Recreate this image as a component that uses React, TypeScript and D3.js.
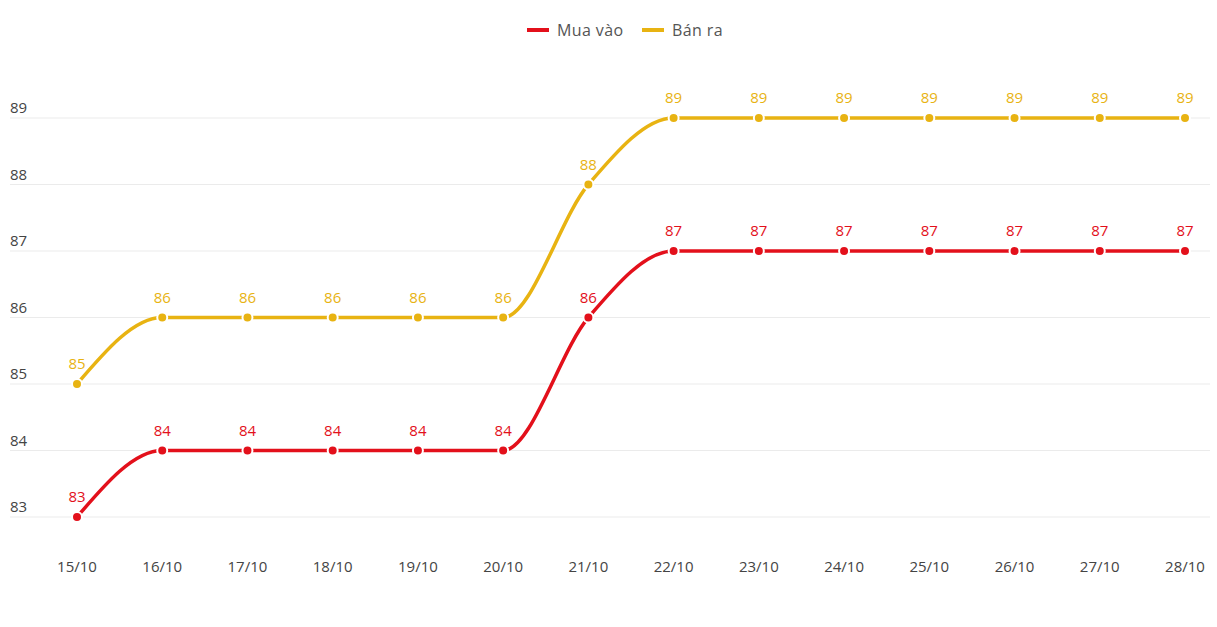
import React from "react";
import * as d3 from "d3";

const dates = ["15/10","16/10","17/10","18/10","19/10","20/10","21/10","22/10","23/10","24/10","25/10","26/10","27/10","28/10"];
const muaVao = [83,84,84,84,84,84,86,87,87,87,87,87,87,87];
const banRa = [85,86,86,86,86,86,88,89,89,89,89,89,89,89];
const yTicks = [83,84,85,86,87,88,89];
const RED = "#e3101b";
const YELLOW = "#e8b312";

const W = 1217, H = 627;
const FONT = "'Open Sans', 'Noto Sans', sans-serif";

export default function App() {
  const x = d3.scalePoint<string>().domain(dates).range([77, 1185]);
  const y = d3.scaleLinear().domain([83, 89]).range([517, 118]);
  const line = d3.line<number>()
    .x((_, i) => x(dates[i]) as number)
    .y((d) => y(d))
    .curve(d3.curveMonotoneX);
  const series = [
    { name: "Mua vào", data: muaVao, color: RED },
    { name: "Bán ra", data: banRa, color: YELLOW },
  ];
  return (
    <svg width={W} height={H} style={{ position: "absolute", left: 0, top: 0, background: "#fff" }} fontFamily={FONT}>
      {yTicks.map((t) => (
        <g key={t}>
          <line x1={10} x2={1210} y1={y(t)} y2={y(t)} stroke="#ebebeb" strokeWidth={1} />
          <text x={10} y={y(t) - 5} fontSize={15} fill="#444">{t}</text>
        </g>
      ))}
      {dates.map((d) => (
        <text key={d} x={x(d)} y={572} fontSize={15} fill="#444" textAnchor="middle">{d}</text>
      ))}
      {series.map((s) => (
        <g key={s.name}>
          <path d={line(s.data) || ""} fill="none" stroke={s.color} strokeWidth={3.5} strokeLinecap="round" />
          {s.data.map((v, i) => (
            <g key={i}>
              <circle cx={x(dates[i])} cy={y(v)} r={5} fill={s.color} stroke="#fff" strokeWidth={2} />
              <text x={x(dates[i])} y={y(v) - 15} fontSize={15} fill={s.color} textAnchor="middle" fontWeight={500}>{v}</text>
            </g>
          ))}
        </g>
      ))}
      <g>
        <line x1={527} x2={549} y1={30} y2={30} stroke={RED} strokeWidth={4} />
        <text x={557} y={36} fontSize={16} letterSpacing={0.4} fill="#555">Mua vào</text>
        <line x1={642} x2={664} y1={30} y2={30} stroke={YELLOW} strokeWidth={4} />
        <text x={672} y={36} fontSize={16} letterSpacing={0.4} fill="#555">Bán ra</text>
      </g>
    </svg>
  );
}
